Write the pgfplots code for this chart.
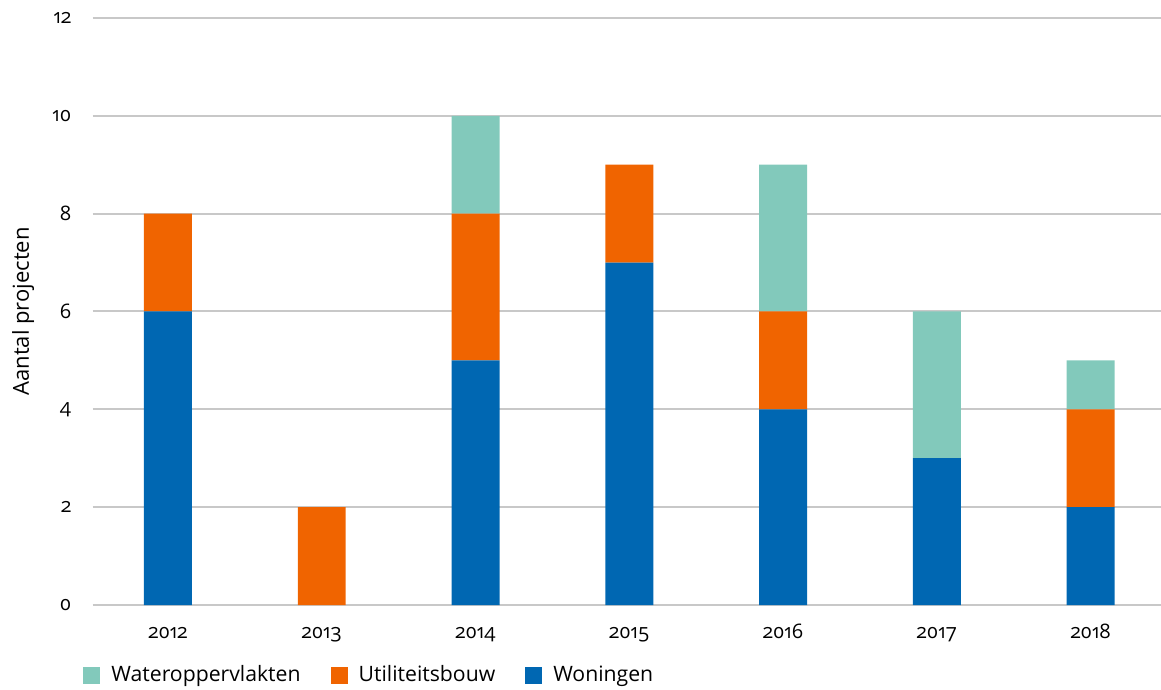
\documentclass[border=0pt]{standalone}
\usepackage{pgfplots}
\pgfplotsset{compat=1.18}
\usepackage{fontspec}
\setmainfont{Open Sans}[Numbers=OldStyle]
\definecolor{wonblue}{RGB}{0,103,178}
\definecolor{utilorange}{RGB}{240,100,0}
\definecolor{waterteal}{RGB}{130,201,187}
\definecolor{gridgray}{RGB}{200,200,200}
\begin{document}
\begin{tikzpicture}
\useasboundingbox (-46.3pt,-42.5pt) rectangle (534.2pt,302.5pt);
\begin{axis}[
  at={(0,0)}, anchor=south west,
  scale only axis, width=537.5pt, height=293.5pt,
  ybar stacked, bar width=0.312,
  xmin=-0.49, xmax=6.5, ymin=0, ymax=12,
  xtick={0,...,6}, xticklabels={2012,2013,2014,2015,2016,2017,2018},
  ytick={0,2,...,12},
  /pgf/number format/assume math mode=true,
  major tick length=0pt,
  axis line style={draw=none},
  ymajorgrids, grid style={color=gridgray, line width=1pt},
  tick label style={font=\fontsize{10}{12}\selectfont, inner sep=0pt},
  yticklabel style={anchor=east, xshift=-10.5pt},
  xticklabel style={anchor=base, yshift=-16.5pt},
  ylabel={Aantal projecten},
  ylabel style={font=\fontsize{11}{13}\selectfont, at={(axis description cs:0,0.5)}, anchor=base, yshift=31.8pt, inner sep=0pt},
  reverse legend,
  legend columns=-1,
  legend image code/.code={\fill[#1] (0pt,-4.25pt) rectangle (8.5pt,4.25pt);},
  legend style={at={(axis description cs:0,0)}, anchor=west, xshift=-4.8pt, yshift=-35pt,
    draw=none, inner sep=0pt, font=\fontsize{10.6}{12}\selectfont,
    nodes={inner sep=0pt, anchor=west},
    /tikz/every odd column/.append style={column sep=5.5pt},
    /tikz/every even column/.append style={column sep=15pt}},
]
\addplot[fill=wonblue, draw=none] coordinates {(0,6) (1,0) (2,5) (3,7) (4,4) (5,3) (6,2)};
\addlegendentry{Woningen}
\addplot[fill=utilorange, draw=none] coordinates {(0,2) (1,2) (2,3) (3,2) (4,2) (5,0) (6,2)};
\addlegendentry{Utiliteitsbouw}
\addplot[fill=waterteal, draw=none] coordinates {(0,0) (1,0) (2,2) (3,0) (4,3) (5,3) (6,1)};
\addlegendentry{Wateroppervlakten}
\end{axis}
\end{tikzpicture}
\end{document}
